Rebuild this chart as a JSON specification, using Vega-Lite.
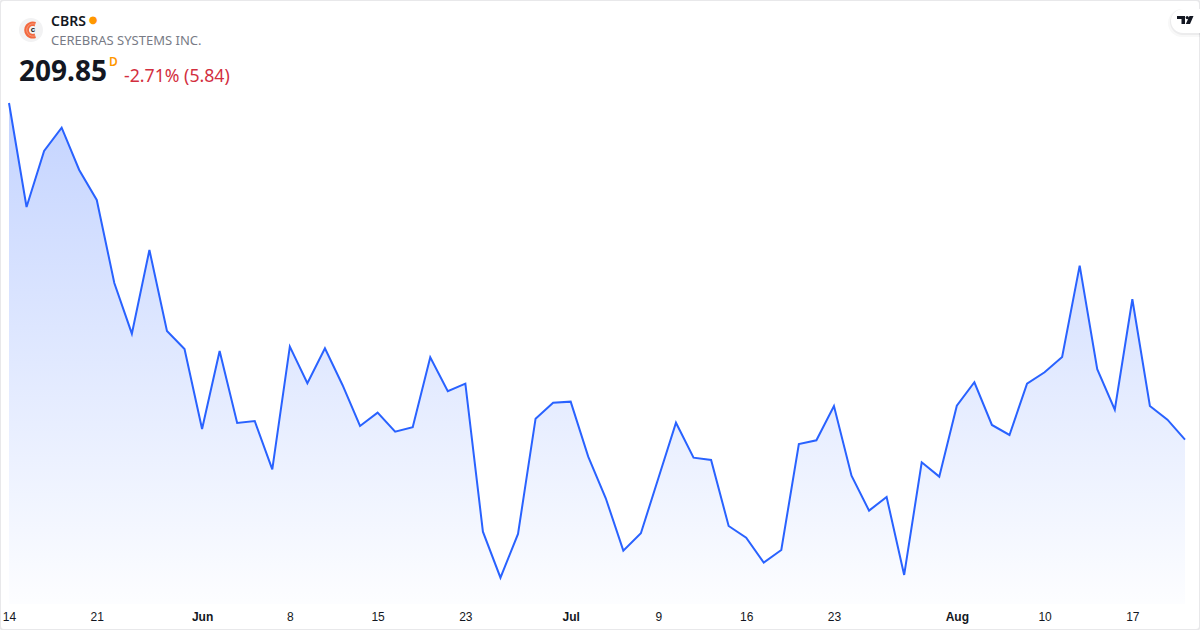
{"$schema":"https://vega.github.io/schema/vega-lite/v6.json","width":1200,"height":630,"padding":0,"autosize":"none","background":"#ffffff",
"config":{"view":{"stroke":"#e8e8ea","strokeWidth":2,"cornerRadius":4}},
"title":{"text":"CBRS","subtitle":"CEREBRAS SYSTEMS INC.","anchor":"start","frame":"group","orient":"top","dx":51,"offset":-48,"font":"Noto Sans","fontSize":14,"fontWeight":600,"color":"#131722","subtitleFont":"Noto Sans","subtitleFontSize":13,"subtitleColor":"#787b86","subtitlePadding":6},
"layer":[
{"data":{"values":[
{"date":"2026-05-14","price":308.17},{"date":"2026-05-15","price":277.80},{"date":"2026-05-18","price":294.15},{"date":"2026-05-19","price":300.95},{"date":"2026-05-20","price":288.60},{"date":"2026-05-21","price":279.84},{"date":"2026-05-22","price":255.61},{"date":"2026-05-26","price":240.80},{"date":"2026-05-27","price":265.24},{"date":"2026-05-28","price":241.59},{"date":"2026-05-29","price":236.33},
{"date":"2026-06-01","price":212.97},{"date":"2026-06-02","price":235.75},{"date":"2026-06-03","price":214.73},{"date":"2026-06-04","price":215.31},{"date":"2026-06-05","price":201.15},{"date":"2026-06-08","price":237.01},{"date":"2026-06-09","price":226.32},{"date":"2026-06-10","price":236.54},{"date":"2026-06-11","price":225.82},{"date":"2026-06-12","price":213.85},{"date":"2026-06-15","price":217.73},{"date":"2026-06-16","price":212.19},{"date":"2026-06-17","price":213.47},{"date":"2026-06-18","price":233.91},{"date":"2026-06-22","price":223.98},{"date":"2026-06-23","price":226.20},{"date":"2026-06-24","price":182.99},{"date":"2026-06-25","price":169.55},{"date":"2026-06-26","price":182.31},{"date":"2026-06-29","price":215.98},{"date":"2026-06-30","price":220.65},
{"date":"2026-07-01","price":220.95},{"date":"2026-07-02","price":204.89},{"date":"2026-07-06","price":192.74},{"date":"2026-07-07","price":177.44},{"date":"2026-07-08","price":182.52},{"date":"2026-07-09","price":198.67},{"date":"2026-07-10","price":214.81},{"date":"2026-07-13","price":204.59},{"date":"2026-07-14","price":203.92},{"date":"2026-07-15","price":184.65},{"date":"2026-07-16","price":181.23},{"date":"2026-07-17","price":173.93},{"date":"2026-07-20","price":177.64},{"date":"2026-07-21","price":208.59},{"date":"2026-07-22","price":209.67},{"date":"2026-07-23","price":219.69},{"date":"2026-07-24","price":199.34},{"date":"2026-07-27","price":189.12},{"date":"2026-07-28","price":193.12},{"date":"2026-07-29","price":170.34},{"date":"2026-07-30","price":203.25},{"date":"2026-07-31","price":199.05},
{"date":"2026-08-03","price":219.78},{"date":"2026-08-04","price":226.61},{"date":"2026-08-05","price":214.14},{"date":"2026-08-06","price":211.22},{"date":"2026-08-07","price":226.20},{"date":"2026-08-10","price":229.53},{"date":"2026-08-11","price":234.00},{"date":"2026-08-12","price":260.66},{"date":"2026-08-13","price":230.41},{"date":"2026-08-14","price":218.61},{"date":"2026-08-17","price":250.85},{"date":"2026-08-18","price":219.69},{"date":"2026-08-19","price":215.69},{"date":"2026-08-20","price":209.85}
]},
"encoding":{
"x":{"field":"date","type":"ordinal","title":null,"scale":{"type":"point","range":[9,1185],"padding":0},
"axis":{"values":["2026-05-14","2026-05-21","2026-06-01","2026-06-08","2026-06-15","2026-06-23","2026-07-01","2026-07-09","2026-07-16","2026-07-23","2026-08-03","2026-08-10","2026-08-17"],
"labelExpr":"slice(datum.value,8)<='03' ? (slice(datum.value,5,7)=='06' ? 'Jun' : slice(datum.value,5,7)=='07' ? 'Jul' : 'Aug') : ''+(+slice(datum.value,8))",
"labelFontWeight":{"condition":{"test":"slice(datum.value,8)<='03'","value":"bold"},"value":"normal"},
"labelAngle":0,"labelAlign":"center","labelFont":"Liberation Sans","labelFontSize":12,"labelColor":"#131722","labelPadding":7,"offset":-26,"domain":false,"ticks":false,"grid":false,"labelOverlap":false,"labelFlush":false,"labelBound":false}},
"y":{"field":"price","type":"quantitative","title":null,"axis":null,"scale":{"domain":[161.86,338.24],"range":[604,0],"zero":false,"nice":false}}
},
"layer":[
{"mark":{"type":"area","color":{"gradient":"linear","x1":0,"y1":0,"x2":0,"y2":1,"stops":[{"offset":0,"color":"rgba(41,98,255,0.28)"},{"offset":1,"color":"rgba(41,98,255,0.01)"}]},"line":false},"encoding":{"y2":{"datum":161.86}}},
{"mark":{"type":"line","color":"#2962ff","strokeWidth":2,"strokeJoin":"miter"}}
]},
{"data":{"values":[{"label":"209.85"}]},"mark":{"type":"text","font":"Noto Sans","fontSize":28,"fontWeight":700,"color":"#131722","align":"left","baseline":"middle","dx":10},"encoding":{"x":{"datum":"2026-05-14","type":"ordinal"},"y":{"datum":316.9,"type":"quantitative"},"text":{"field":"label","type":"nominal"}}},
{"data":{"values":[{"label":"D"}]},"mark":{"type":"text","font":"Noto Sans","fontSize":12,"fontWeight":600,"color":"#ff9800","align":"left","baseline":"middle","dx":100},"encoding":{"x":{"datum":"2026-05-14","type":"ordinal"},"y":{"datum":320.2,"type":"quantitative"},"text":{"field":"label","type":"nominal"}}},
{"data":{"values":[{"label":"-2.71% (5.84)"}]},"mark":{"type":"text","font":"Noto Sans","fontSize":17.7,"color":"#d32f3f","align":"left","baseline":"middle","dx":115},"encoding":{"x":{"datum":"2026-05-14","type":"ordinal"},"y":{"datum":315.9,"type":"quantitative"},"text":{"field":"label","type":"nominal"}}},
{"data":{"values":[{"label":"●"}]},"mark":{"type":"text","font":"DejaVu Sans","fontSize":10,"color":"#ff9800","align":"center","baseline":"middle","dx":49},"encoding":{"x":{"datum":"2026-05-18","type":"ordinal"},"y":{"datum":332.4,"type":"quantitative"},"text":{"field":"label","type":"nominal"}}},
{"data":{"values":[{"label":"logo disc"}]},"mark":{"type":"point","filled":true,"opacity":1,"size":4,"shape":"M-7.6,0 A12,12 0 1 0 16.4,0 A12,12 0 1 0 -7.6,0 Z","color":"#f2f2f3"},"encoding":{"x":{"datum":"2026-05-15","type":"ordinal"},"y":{"datum":329.48,"type":"quantitative"}}},
{"data":{"values":[{"label":"logo ring"}]},"mark":{"type":"point","filled":true,"opacity":1,"size":4,"shape":"M9.4,-8 A8.6,8.6 0 1 0 9.4,8 L8,3.5 A3.9,3.9 0 1 1 8,-3.5 Z","color":"#f2693f"},"encoding":{"x":{"datum":"2026-05-15","type":"ordinal"},"y":{"datum":329.48,"type":"quantitative"}}},
{"data":{"values":[{"label":"logo stripe"}]},"mark":{"type":"point","filled":false,"opacity":0.55,"size":4,"strokeWidth":0.8,"shape":"M9,-5.6 A6.2,6.2 0 1 0 9,5.6","color":"#ffd9cc"},"encoding":{"x":{"datum":"2026-05-15","type":"ordinal"},"y":{"datum":329.48,"type":"quantitative"}}},
{"data":{"values":[{"label":"c"}]},"mark":{"type":"text","font":"Liberation Sans","fontSize":8,"fontWeight":700,"color":"#131722","align":"center","baseline":"middle","dx":6.5},"encoding":{"x":{"datum":"2026-05-15","type":"ordinal"},"y":{"datum":329.48,"type":"quantitative"},"text":{"field":"label","type":"nominal"}}},
{"data":{"values":[{"label":"badge shadow wide"}]},"mark":{"type":"point","filled":true,"opacity":0.03,"size":4,"shape":"M-3,-12 H20 V16 H-3 A14,14 0 0 1 -3,-12 Z","color":"#131722"},"encoding":{"x":{"datum":"2026-08-20","type":"ordinal"},"y":{"datum":332.1,"type":"quantitative"}}},
{"data":{"values":[{"label":"badge shadow"}]},"mark":{"type":"point","filled":true,"opacity":0.05,"size":4,"shape":"M-2,-12 H20 V14 H-2 A13,13 0 0 1 -2,-12 Z","color":"#131722"},"encoding":{"x":{"datum":"2026-08-20","type":"ordinal"},"y":{"datum":332.1,"type":"quantitative"}}},
{"data":{"values":[{"label":"badge"}]},"mark":{"type":"point","filled":true,"opacity":1,"size":4,"shape":"M-2,-12 H20 V12 H-2 A12,12 0 0 1 -2,-12 Z","color":"#ffffff"},"encoding":{"x":{"datum":"2026-08-20","type":"ordinal"},"y":{"datum":332.1,"type":"quantitative"}}},
{"data":{"values":[{"label":"TradingView mark"}]},"mark":{"type":"point","filled":true,"opacity":1,"size":4,"shape":"M-8,-4 H0 V4 H-3.5 V-1 H-8 Z M0.6,-2.4 A1.6,1.6 0 1 0 3.8,-2.4 A1.6,1.6 0 1 0 0.6,-2.4 Z M4.5,-4 H8.5 L5,4 H0.8 Z","color":"#131722"},"encoding":{"x":{"datum":"2026-08-20","type":"ordinal"},"y":{"datum":332.4,"type":"quantitative"}}}
]}
